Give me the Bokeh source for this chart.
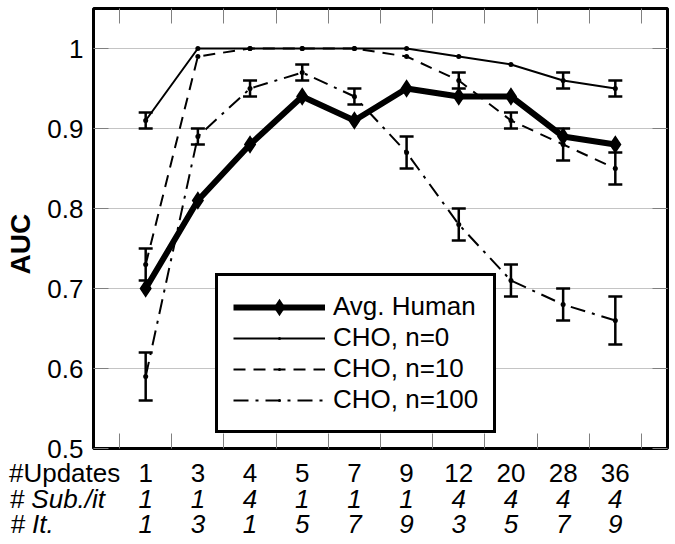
import numpy as np
from bokeh.plotting import figure
from bokeh.models import (Range1d, LinearAxis, FixedTicker, Grid, Whisker,
                          ColumnDataSource, Legend, LegendItem, TeeHead)
from bokeh.embed import file_html
from bokeh.resources import INLINE

# ---------------- data ----------------
positions = list(range(10))
updates = ["1", "3", "4", "5", "7", "9", "12", "20", "28", "36"]
sub_per_it = ["1", "1", "4", "1", "1", "1", "4", "4", "4", "4"]
iterations = ["1", "3", "1", "5", "7", "9", "3", "5", "7", "9"]

human = [0.70, 0.81, 0.88, 0.94, 0.91, 0.95, 0.94, 0.94, 0.89, 0.88]
cho_n0 = [0.91, 1.00, 1.00, 1.00, 1.00, 1.00, 0.99, 0.98, 0.96, 0.95]
cho_n0_err = [0.01, 0, 0, 0, 0, 0, 0, 0, 0.01, 0.01]
cho_n10 = [0.73, 0.99, 1.00, 1.00, 1.00, 0.99, 0.96, 0.91, 0.88, 0.85]
cho_n10_err = [0.02, 0, 0, 0, 0, 0, 0.01, 0.01, 0.02, 0.02]
cho_n100 = [0.59, 0.89, 0.95, 0.97, 0.94, 0.87, 0.78, 0.71, 0.68, 0.66]
cho_n100_err = [0.03, 0.01, 0.01, 0.01, 0.01, 0.02, 0.02, 0.02, 0.02, 0.03]

y_ticks = [0.5, 0.6, 0.7, 0.8, 0.9, 1.0]
y_tick_labels = ["0.5", "0.6", "0.7", "0.8", "0.9", "1"]
row_titles = ["#Updates", "# Sub./it", "# It."]

FONT = "Liberation Sans"
FS = "26px"
TICK_GRAY = "#808080"
NBSP = "\u00a0"

# ---------------- figure ----------------
p = figure(width=675, height=544, output_backend="svg", toolbar_location=None,
           x_range=Range1d(-1, 10), y_range=Range1d(0.5, 1.05),
           x_axis_type=None, y_axis_type=None,
           min_border_left=93, min_border_right=8, min_border_top=8,
           min_border_bottom=96)
p.outline_line_color = "black"
p.outline_line_width = 3
p.background_fill_color = "white"
p.border_fill_color = "white"

x_between = [i - 0.5 for i in range(len(positions) + 1)]

p.add_layout(Grid(dimension=1, ticker=FixedTicker(ticks=y_ticks),
                  grid_line_color="#c4c4c4", grid_line_width=1))

# left axis
yaxis = LinearAxis(ticker=FixedTicker(ticks=y_ticks),
                   major_label_overrides={t: l for t, l in zip(y_ticks, y_tick_labels)},
                   axis_label="AUC" + NBSP * 4,
                   axis_label_text_font=FONT,
                   axis_label_text_font_style="bold", axis_label_text_font_size="28px",
                   axis_label_text_color="black", axis_label_standoff=8,
                   major_label_text_font=FONT, major_label_text_font_size=FS,
                   major_label_text_color="black", major_label_standoff=10,
                   major_tick_in=15, major_tick_out=0,
                   major_tick_line_color=TICK_GRAY, minor_tick_line_color=None,
                   axis_line_color=None)
p.add_layout(yaxis, "left")

# right axis (ticks only)
p.add_layout(LinearAxis(ticker=FixedTicker(ticks=[], minor_ticks=y_ticks),
                        minor_tick_in=15, minor_tick_out=0,
                        minor_tick_line_color=TICK_GRAY,
                        major_tick_line_color=None, axis_line_color=None), "right")

# top axis (ticks only)
p.add_layout(LinearAxis(ticker=FixedTicker(ticks=[], minor_ticks=x_between),
                        minor_tick_in=15, minor_tick_out=0,
                        minor_tick_line_color=TICK_GRAY,
                        major_tick_line_color=None, axis_line_color=None), "above")

# bottom axes: three label rows; each row's title is a tick label at the
# frame's left edge, padded on the right so that it reads left of the values
title_tick = -1 + 1e-9
title_pad = [8, 10, 17]
rows = [(updates, "normal", 9, True), (sub_per_it, "italic", -7, False),
        (iterations, "italic", -8, False)]
for (labels, style, standoff, with_ticks), title, pad in zip(rows, row_titles, title_pad):
    overrides = {i: l for i, l in zip(positions, labels)}
    overrides[title_tick] = title + NBSP * pad
    ax = LinearAxis(ticker=FixedTicker(ticks=[title_tick] + positions,
                                       minor_ticks=x_between if with_ticks else []),
                    major_label_overrides=overrides,
                    major_label_text_font=FONT, major_label_text_font_size=FS,
                    major_label_text_font_style=style,
                    major_label_text_color="black",
                    major_label_standoff=standoff,
                    major_tick_in=0, major_tick_out=0,
                    minor_tick_in=15, minor_tick_out=0,
                    minor_tick_line_color=TICK_GRAY if with_ticks else None,
                    axis_line_color=None)
    p.add_layout(ax, "below")

# ---------------- series ----------------
def add_errors(vals, errs):
    xs = [x for x, e in zip(positions, errs) if e > 0]
    up = [v + e for v, e in zip(vals, errs) if e > 0]
    lo = [v - e for v, e in zip(vals, errs) if e > 0]
    src = ColumnDataSource(dict(x=xs, upper=up, lower=lo))
    p.add_layout(Whisker(source=src, base="x", upper="upper", lower="lower",
                         dimension="height", line_color="black", line_width=2.5,
                         upper_head=TeeHead(size=14, line_width=2.5, line_color="black"),
                         lower_head=TeeHead(size=14, line_width=2.5, line_color="black")))

series = [(cho_n0, cho_n0_err, "solid", "CHO, n=0"),
          (cho_n10, cho_n10_err, "12 8", "CHO, n=10"),
          (cho_n100, cho_n100_err, "15 7 3 7", "CHO, n=100")]
cho_items = []
for vals, errs, dash, name in series:
    add_errors(vals, errs)
    l = p.line(positions, vals, line_color="black", line_width=2, line_dash=dash)
    s = p.scatter(positions, vals, marker="dot", size=20, line_color="black",
                  line_width=2)
    cho_items.append(LegendItem(label=name, renderers=[l, s]))

hl = p.line(positions, human, line_color="black", line_width=6)
hs = p.scatter(positions, human, marker="diamond", size=13, color="black",
               line_width=3, line_join="miter")

legend = Legend(items=[LegendItem(label="Avg. Human", renderers=[hl, hs])] + cho_items,
                location=(122, 15), glyph_width=92, glyph_height=30,
                label_height=30, label_standoff=8, spacing=0, padding=15, margin=0,
                label_text_font=FONT, label_text_font_size=FS,
                label_text_color="black",
                border_line_color="black", border_line_width=3, border_line_alpha=1,
                background_fill_color="white", background_fill_alpha=1)
p.add_layout(legend, "center")

open("out.html", "w").write(file_html(p, INLINE))
